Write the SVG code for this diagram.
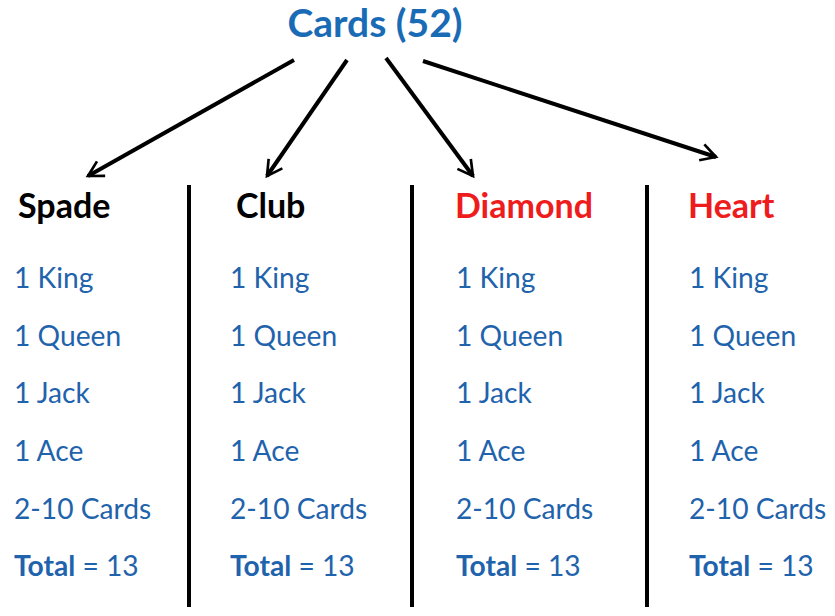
<svg xmlns="http://www.w3.org/2000/svg" width="835" height="616" viewBox="0 0 835 616">
<style>
.t{font-family:Lato,"Liberation Sans",sans-serif;font-size:28.2px;fill:#1F63AC}
.b{font-weight:bold}
.h{font-family:Lato,"Liberation Sans",sans-serif;font-size:34px;font-weight:bold}
.title{font-family:Lato,"Liberation Sans",sans-serif;font-size:39px;font-weight:bold;fill:#1A6BB6}
.ln{stroke:#000;stroke-width:4;fill:none}
.ar{stroke:#000;stroke-width:4;fill:none;marker-end:url(#a)}
</style>
<defs>
<marker id="a" viewBox="0 0 12 12" refX="10" refY="6" markerWidth="5" markerHeight="5" orient="auto" markerUnits="strokeWidth">
<path d="M1,1 L10,6 L1,11" fill="none" stroke="#000" stroke-width="1.6"/>
</marker>
</defs>
<rect width="835" height="616" fill="#fff"/>
<g id="title"><text class="title" x="375" y="37" text-anchor="middle">Cards (52)</text></g>
<g id="connectors">
<line class="ar" x1="294" y1="60" x2="88" y2="176"/>
<line class="ar" x1="347" y1="60" x2="267" y2="176"/>
<line class="ar" x1="386" y1="58" x2="473" y2="176"/>
<line class="ar" x1="423" y1="61" x2="716" y2="157"/>
<line class="ln" x1="189" y1="185" x2="189" y2="607"/>
<line class="ln" x1="412" y1="185" x2="412" y2="607"/>
<line class="ln" x1="647" y1="185" x2="647" y2="607"/>
</g>
<g id="spade">
<text class="h" x="18" y="218" fill="#000">Spade</text>
<text class="t" x="14" y="288">1 King</text>
<text class="t" x="14" y="346">1 Queen</text>
<text class="t" x="14" y="403">1 Jack</text>
<text class="t" x="14" y="461">1 Ace</text>
<text class="t" x="14" y="519">2-10 Cards</text>
<text class="t" x="14" y="576"><tspan class="b">Total</tspan> = 13</text>
</g>
<g id="club">
<text class="h" x="236" y="218" fill="#000">Club</text>
<text class="t" x="230" y="288">1 King</text>
<text class="t" x="230" y="346">1 Queen</text>
<text class="t" x="230" y="403">1 Jack</text>
<text class="t" x="230" y="461">1 Ace</text>
<text class="t" x="230" y="519">2-10 Cards</text>
<text class="t" x="230" y="576"><tspan class="b">Total</tspan> = 13</text>
</g>
<g id="diamond">
<text class="h" x="455" y="218" fill="#EE1C1C">Diamond</text>
<text class="t" x="456" y="288">1 King</text>
<text class="t" x="456" y="346">1 Queen</text>
<text class="t" x="456" y="403">1 Jack</text>
<text class="t" x="456" y="461">1 Ace</text>
<text class="t" x="456" y="519">2-10 Cards</text>
<text class="t" x="456" y="576"><tspan class="b">Total</tspan> = 13</text>
</g>
<g id="heart">
<text class="h" x="688" y="218" fill="#EE1C1C">Heart</text>
<text class="t" x="689" y="288">1 King</text>
<text class="t" x="689" y="346">1 Queen</text>
<text class="t" x="689" y="403">1 Jack</text>
<text class="t" x="689" y="461">1 Ace</text>
<text class="t" x="689" y="519">2-10 Cards</text>
<text class="t" x="689" y="576"><tspan class="b">Total</tspan> = 13</text>
</g>
</svg>
